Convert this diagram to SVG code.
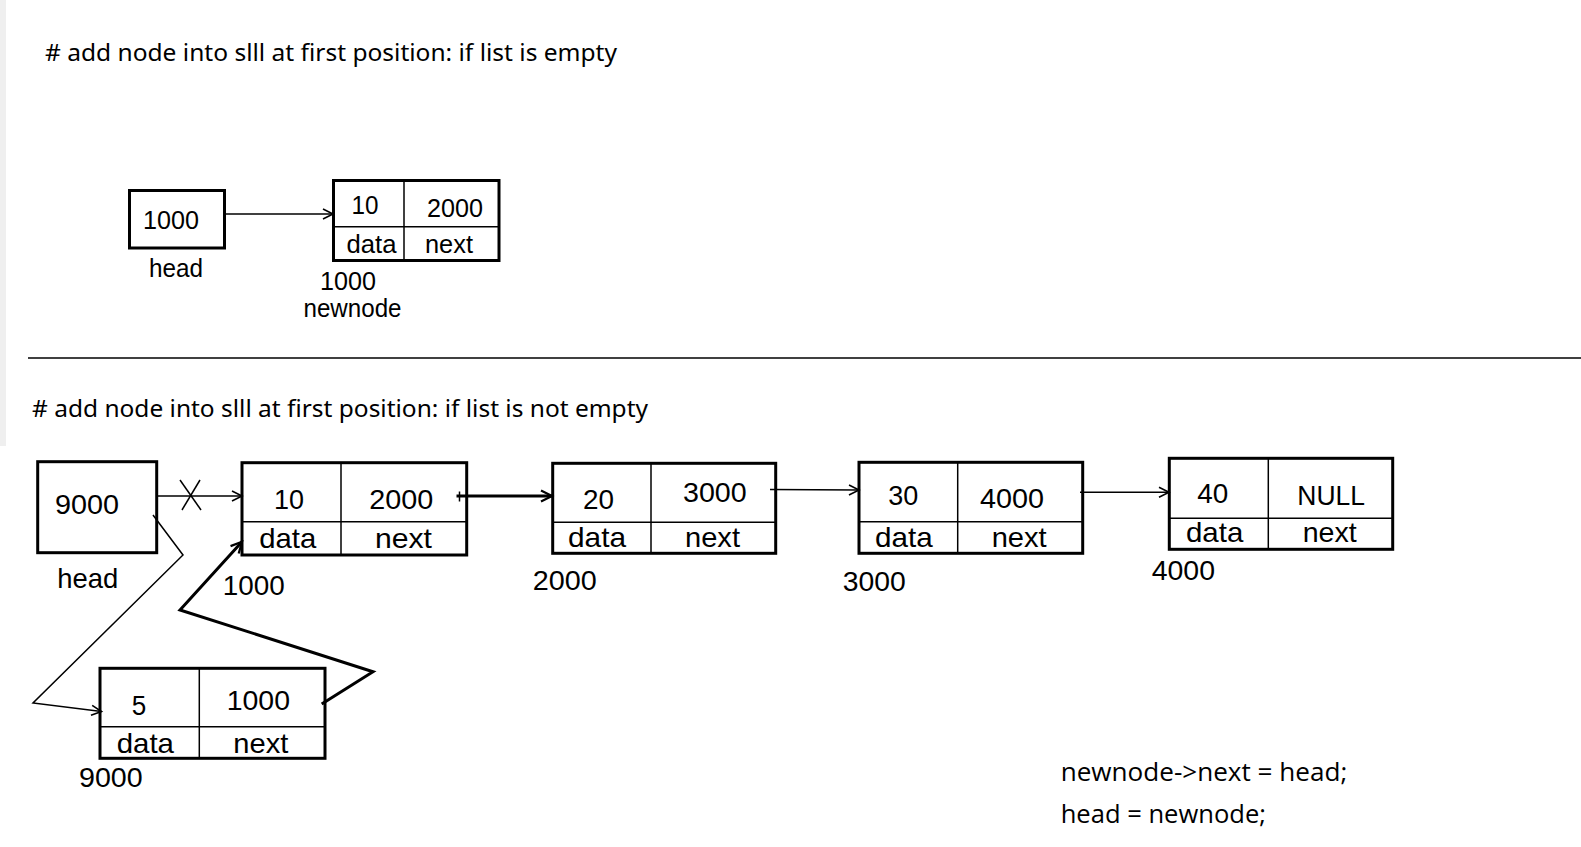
<svg xmlns="http://www.w3.org/2000/svg" width="1581" height="847" viewBox="0 0 1581 847">
<style>
text{font-family:"Liberation Sans",Arial,sans-serif;fill:#000}
.t{font-family:"Noto Sans","Liberation Sans",sans-serif;font-size:24px}
.s{font-size:25px}
.b{font-size:28px}
.code{font-family:"Open Sans","Liberation Sans",sans-serif;font-size:26px}
.box{fill:#fff;stroke:#000;stroke-width:3}
.div{stroke:#000;stroke-width:1.5;fill:none}
.thin{stroke:#000;stroke-width:1.5;fill:none}
.thick{stroke:#000;stroke-width:3;fill:none}
</style>
<defs>
<marker id="ah" markerUnits="userSpaceOnUse" markerWidth="14" markerHeight="14" viewBox="0 0 14 14" refX="12" refY="7" orient="auto">
<path d="M2,2 L12,7 L2,12" fill="none" stroke="#000" stroke-width="1.6"/>
</marker>
<marker id="ahb" markerUnits="userSpaceOnUse" markerWidth="16" markerHeight="16" viewBox="0 0 16 16" refX="13" refY="8" orient="auto">
<path d="M2,2.5 L13,8 L2,13.5" fill="none" stroke="#000" stroke-width="2.2"/>
</marker>
</defs>
<rect x="0" y="0" width="1581" height="847" fill="#fff"/>
<rect x="0" y="0" width="6" height="446" fill="#efefef"/>

<text class="t" x="45" y="61" textLength="572" lengthAdjust="spacingAndGlyphs"># add node into slll at first position: if list is empty</text>
<line x1="28" y1="358" x2="1581" y2="358" stroke="#000" stroke-width="1.5"/>
<text class="t" x="32" y="417" textLength="616" lengthAdjust="spacingAndGlyphs"># add node into slll at first position: if list is not empty</text>

<g id="head-top">
<rect class="box" x="129.5" y="190.5" width="95" height="57.5"/>
<text class="s" x="143" y="228.5" textLength="56" lengthAdjust="spacingAndGlyphs">1000</text>
<text class="s" x="149" y="276.5" textLength="54" lengthAdjust="spacingAndGlyphs">head</text>
</g>
<g id="newnode-top">
<rect class="box" x="333.5" y="180.5" width="165.5" height="80"/>
<line class="div" x1="404" y1="180.5" x2="404" y2="260.5"/>
<line class="div" x1="333.5" y1="226.7" x2="499" y2="226.7"/>
<text class="s" x="351.5" y="213.5" textLength="27" lengthAdjust="spacingAndGlyphs">10</text>
<text class="s" x="427" y="216.5" textLength="56" lengthAdjust="spacingAndGlyphs">2000</text>
<text class="s" x="346.5" y="252.5" textLength="50" lengthAdjust="spacingAndGlyphs">data</text>
<text class="s" x="425" y="252.5" textLength="48" lengthAdjust="spacingAndGlyphs">next</text>
<text class="s" x="320" y="289.5" textLength="56" lengthAdjust="spacingAndGlyphs">1000</text>
<text class="s" x="303.5" y="317" textLength="98" lengthAdjust="spacingAndGlyphs">newnode</text>
</g>

<g id="head">
<rect class="box" x="37.7" y="461.7" width="119" height="91"/>
<text class="b" x="55" y="514" textLength="64" lengthAdjust="spacingAndGlyphs">9000</text>
<text class="b" x="57.3" y="588" textLength="61" lengthAdjust="spacingAndGlyphs">head</text>
</g>
<g id="node10">
<rect class="box" x="242" y="462.7" width="224.7" height="92.3"/>
<line class="div" x1="341" y1="462.7" x2="341" y2="555"/>
<line class="div" x1="242" y1="521.7" x2="466.7" y2="521.7"/>
<text class="b" x="274" y="508.8" textLength="30" lengthAdjust="spacingAndGlyphs">10</text>
<text class="b" x="369.3" y="508.8" textLength="64" lengthAdjust="spacingAndGlyphs">2000</text>
<text class="b" x="259.3" y="548" textLength="57" lengthAdjust="spacingAndGlyphs">data</text>
<text class="b" x="375" y="548" textLength="57" lengthAdjust="spacingAndGlyphs">next</text>
<text class="b" x="222.7" y="594.5" textLength="62" lengthAdjust="spacingAndGlyphs">1000</text>
</g>
<g id="node20">
<rect class="box" x="552.7" y="463.3" width="223" height="90"/>
<line class="div" x1="651" y1="463.3" x2="651" y2="553.3"/>
<line class="div" x1="552.7" y1="522.3" x2="775.7" y2="522.3"/>
<text class="b" x="583" y="508.8" textLength="31" lengthAdjust="spacingAndGlyphs">20</text>
<text class="b" x="683" y="502.2" textLength="63.7" lengthAdjust="spacingAndGlyphs">3000</text>
<text class="b" x="568" y="546.5" textLength="58" lengthAdjust="spacingAndGlyphs">data</text>
<text class="b" x="685" y="546.5" textLength="55" lengthAdjust="spacingAndGlyphs">next</text>
<text class="b" x="532.7" y="589.5" textLength="64" lengthAdjust="spacingAndGlyphs">2000</text>
</g>
<g id="node30">
<rect class="box" x="859" y="462.3" width="223.7" height="91"/>
<line class="div" x1="957.7" y1="462.3" x2="957.7" y2="553.3"/>
<line class="div" x1="859" y1="521.7" x2="1082.7" y2="521.7"/>
<text class="b" x="888.3" y="504.8" textLength="30" lengthAdjust="spacingAndGlyphs">30</text>
<text class="b" x="980" y="508.2" textLength="64" lengthAdjust="spacingAndGlyphs">4000</text>
<text class="b" x="875" y="546.5" textLength="57.7" lengthAdjust="spacingAndGlyphs">data</text>
<text class="b" x="991.7" y="546.5" textLength="55" lengthAdjust="spacingAndGlyphs">next</text>
<text class="b" x="842.7" y="590.5" textLength="63" lengthAdjust="spacingAndGlyphs">3000</text>
</g>
<g id="node40">
<rect class="box" x="1169.3" y="458.3" width="223.4" height="91"/>
<line class="div" x1="1268.3" y1="458.3" x2="1268.3" y2="549.3"/>
<line class="div" x1="1169.3" y1="518.3" x2="1392.7" y2="518.3"/>
<text class="b" x="1197.3" y="503.2" textLength="31" lengthAdjust="spacingAndGlyphs">40</text>
<text class="b" x="1297.3" y="504.8" textLength="67.7" lengthAdjust="spacingAndGlyphs">NULL</text>
<text class="b" x="1186" y="541.5" textLength="57.3" lengthAdjust="spacingAndGlyphs">data</text>
<text class="b" x="1302.7" y="541.5" textLength="54" lengthAdjust="spacingAndGlyphs">next</text>
<text class="b" x="1151.7" y="579.8" textLength="63.3" lengthAdjust="spacingAndGlyphs">4000</text>
</g>
<g id="node5">
<rect class="box" x="100" y="668.3" width="225" height="90"/>
<line class="div" x1="199.3" y1="668.3" x2="199.3" y2="758.3"/>
<line class="div" x1="100" y1="726.7" x2="325" y2="726.7"/>
<text class="b" x="131.7" y="714.5" textLength="14.5" lengthAdjust="spacingAndGlyphs">5</text>
<text class="b" x="226.7" y="709.8" textLength="63.3" lengthAdjust="spacingAndGlyphs">1000</text>
<text class="b" x="116.7" y="752.5" textLength="57.3" lengthAdjust="spacingAndGlyphs">data</text>
<text class="b" x="233.3" y="752.5" textLength="55" lengthAdjust="spacingAndGlyphs">next</text>
<text class="b" x="79" y="787.3" textLength="63.7" lengthAdjust="spacingAndGlyphs">9000</text>
</g>

<g id="connectors">
<line class="thin" x1="224" y1="214" x2="333" y2="214" marker-end="url(#ah)"/>
<line class="thin" x1="157" y1="496" x2="242" y2="496" marker-end="url(#ah)"/>
<line class="thin" x1="180" y1="480" x2="201" y2="510"/>
<line class="thin" x1="182" y1="510" x2="200" y2="480"/>
<line class="thin" x1="459.5" y1="491.5" x2="459.5" y2="501.5"/>
<line class="thick" x1="456.5" y1="496" x2="552" y2="496" marker-end="url(#ahb)"/>
<line class="thin" x1="770" y1="489.5" x2="859" y2="490" marker-end="url(#ah)"/>
<line class="thin" x1="1080" y1="492.3" x2="1169" y2="492.3" marker-end="url(#ah)"/>
<polyline class="thin" points="153,515 183,555 33,703 101.5,711.5" marker-end="url(#ah)"/>
<polyline class="thick" points="321.7,704 373,671.7 180,610 242,541.7" stroke-linejoin="miter" marker-end="url(#ahb)"/>
</g>

<text class="code" x="1060.7" y="781" textLength="286.6" lengthAdjust="spacingAndGlyphs">newnode-&gt;next = head;</text>
<text class="code" x="1060.7" y="823" textLength="205.3" lengthAdjust="spacingAndGlyphs">head = newnode;</text>
</svg>
